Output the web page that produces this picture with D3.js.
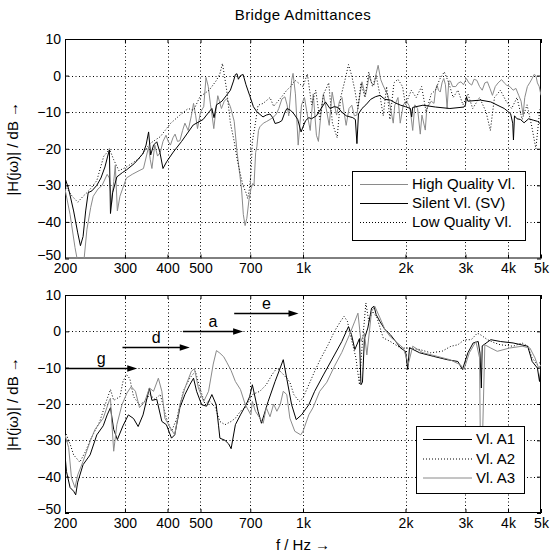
<!DOCTYPE html>
<html><head><meta charset="utf-8">
<script src="https://cdn.jsdelivr.net/npm/d3@7"></script>
<style>
html,body{margin:0;padding:0;background:#fff;}
svg text{font-family:"Liberation Sans",Arial,Helvetica,sans-serif;}
</style></head>
<body>
<svg id="chart" width="551" height="558"></svg>
<script>
// ---------- data ----------
const titleText = "Bridge Admittances";
const xLabelText = "f / Hz \u2192";
const yLabelText = "|H(j\u03c9)| / dB \u2192";
const freqTicks = [200,300,400,500,700,1000,2000,3000,4000,5000];
const freqTickLabels = ["200","300","400","500","700","1k","2k","3k","4k","5k"];
const dbTicks = [10,0,-10,-20,-30,-40,-50];

// top panel
const hqF = [200,207,214,220,226,232,238,242,250,257,266,270,274,278,281,285,290,295,303,315,330,340,352,356,360,367,374,381,388,396,402,408,415,421,428,435,443,450,460,470,477,484,490,500,511,519,527,535,540,547,554,562,568,576,587,597,612,628,640,652,660,668,676,684,694,703,712,718,726,732,740,747,765,780,800,820,835,849,867,885,898,908,926,935,950,968,990,1010,1030,1050,1072,1095,1110,1130,1148,1170,1194,1218,1237,1255,1280,1302,1320,1339,1365,1391,1415,1439,1465,1490,1510,1526,1545,1563,1590,1617,1640,1662,1690,1717,1745,1776,1800,1841,1860,1901,1930,1970,2010,2048,2070,2100,2130,2170,2210,2235,2286,2310,2340,2380,2425,2450,2475,2500,2530,2560,2590,2620,2650,2680,2710,2750,2810,2860,2910,2960,3020,3070,3130,3180,3240,3300,3360,3420,3480,3540,3600,3670,3740,3830,3900,3960,4050,4140,4220,4300,4370,4430,4480,4560,4630,4710,4770,4830,4880,4940,5000];
const hqDb = [-31,-38,-47,-53,-53,-42,-36,-33,-31,-30,-27,-28,-35,-29,-24.5,-37,-33,-31,-28,-27,-26,-25.4,-19.5,-23,-25.4,-19,-22,-21,-18,-16.3,-18,-19,-17,-16,-18,-17.8,-15,-13,-15,-11,-7.6,-11,-14.5,-10,-8.5,-0.5,-3,-8,-10.5,-14.5,-10,-5.5,-7,-9,-7,-6.3,-8.5,-12.5,-20.8,-27,-31,-38,-41,-39,-34,-31,-29.5,-30,-21,-19.5,-15,-14,-13,-12.6,-12,-11.3,-10.5,-9,-6.4,-5.8,-8,-11,-1.3,0.6,-5,-19,-8,-6,-10.8,-15,-5,-16.3,-18,-10,-5,-9,-13.6,-4.5,-8,-10.8,-7,-6,-10,-13.6,-9,-8.1,-11,-10.8,-6,-1.7,-4,-5.4,-3,0,-2,-2.6,0.5,2.8,-1,-2.6,-4,-5.4,-8,-13,-8.1,-6,-13,-8,-7,-8.1,-10,-15,-8,-9,-16,-10.8,-14.9,-9,-8.1,-7,-7.6,-4,-2.6,-4,-4.5,-2,-0.8,-2.5,-9,-1.5,-1.5,-3,-3,-2,-1.7,-2.5,-0.8,-2,-2.6,-1,-1.3,-3,-4,-2,-1.7,-3.5,-5.4,-3,-2,-1.1,-2,-2.6,-3,-4,-3.5,-5.4,-7,-10.8,-6,-3,-2,-0.8,0.3,0,-2,-3,-5.4];

const svF = [200,205,212,218,222,226,230,234,240,248,255,262,267,270,272,276,284,295,303,320,339,346,352,357,364,372,380,388,398,416,440,476,509,530,540,548,557,578,595,612,625,633,640,646,655,667,680,697,715,732,763,780,800,815,828,850,867,885,897,920,941,965,987,1000,1018,1040,1059,1095,1130,1164,1200,1235,1266,1300,1340,1400,1425,1440,1455,1490,1530,1580,1630,1683,1740,1805,1870,1936,2000,2068,2085,2100,2250,2450,2700,2970,3000,3020,3050,3320,3560,3900,4070,4130,4150,4180,4250,4350,4460,4600,4750,4880,5000];
const svDb = [-28,-31,-37,-43,-46.5,-44,-37,-32,-31.5,-30,-28,-25,-22,-20.3,-37.7,-32,-27.7,-26.5,-25.8,-24,-21.3,-19,-15.4,-21.7,-19,-18.1,-21,-25.4,-23.5,-20.9,-18,-13.5,-12,-9.9,-9,-11.5,-8,-7,-5.5,-4,-1.5,0.3,0.5,-1,0,0.3,-2.5,-5.4,-8.5,-9.9,-11.3,-10.8,-10.5,-11.5,-13.1,-12.8,-12.3,-10,-9,-9.5,-10.5,-12,-15.4,-14,-12.3,-11.5,-11.8,-11,-9,-7.2,-9,-8.5,-8.7,-10,-11,-11.5,-12,-18.6,-10.5,-9,-8,-6.5,-5.8,-5.4,-6.5,-6.7,-7.5,-8.1,-8.5,-9,-11.3,-8.7,-8.1,-8.6,-9,-8.6,-8,-5.8,-7,-6.7,-7.2,-9,-10.4,-13,-17.6,-11,-11.8,-12,-12.9,-11.8,-12.2,-12.5,-13.3];

const lqF = [200,210,218,226,235,248,260,266,270,278,288,303,330,355,381,408,435,460,477,498,530,557,570,580,590,597,612,628,640,655,666,680,688,696,703,710,722,738,764,800,820,866,896,920,948,1000,1030,1060,1090,1120,1150,1190,1220,1260,1290,1330,1360,1390,1420,1450,1480,1520,1560,1600,1640,1680,1720,1760,1800,1850,1900,1960,2000,2080,2150,2230,2300,2380,2450,2520,2600,2680,2760,2850,2950,3050,3150,3300,3450,3550,3650,3800,3950,4100,4250,4400,4550,4700,4830,4950,5000];
const lqDb = [-30,-33,-34.6,-33,-31.5,-28.7,-22,-21,-20,-23,-26,-25,-22.7,-18.6,-16.7,-13.1,-10.8,-9,-9.5,-5.8,-4,-1.3,0.5,3.3,-1,-4,-13,-18,-22.7,-27,-30,-32,-33.6,-31,-27,-18,-14,-8.1,-7.6,-6,-8.4,-5.8,-4,-3,-1.3,-3,0.5,-8,-4,-12,-5,-2,-13,-17,-6,-1,3,0,-4,-9,-2,-6,1,-3,0,-5,-11,-3,-12,-2,-1,-3,-8,-4,-6,-3,-10,-5,-4,-1,1,-2,-6,-4,-8,-5,-9,-6,-10,-15,-6,-4,-7,-9,-6,-12,-8,-14,-20,-10,-8];

// bottom panel
const a1F = [200,202,207,212,215,218,226,237,248,259,266,272,278,285,296,307,318,328,339,354,360,372,385,397,411,420,435,450,465,477,487,504,521,540,556,565,570,590,605,615,633,655,682,697,710,738,755,790,828,857,875,896,926,955,990,1040,1082,1148,1237,1300,1360,1388,1420,1465,1480,1495,1515,1550,1590,1617,1640,1683,1740,1805,1936,2000,2030,2055,2200,2420,2650,2850,2940,3050,3160,3270,3310,3340,3360,3560,3800,4140,4570,4710,4880,4950,5000];
const a1Db = [-34,-38.6,-43,-44,-45,-41.5,-36.7,-34,-28.5,-26,-23,-21,-27,-29.8,-26,-23,-24,-26.2,-23,-15.6,-19,-18.7,-24.8,-25.7,-29.4,-28.5,-21,-17.4,-14.7,-12.9,-16.5,-20.2,-20.6,-17.4,-20.2,-26,-29.4,-30,-31,-32.3,-25.7,-23,-20,-18,-14.7,-22,-25.3,-19.3,-13.8,-10.1,-7.8,-13,-20.2,-24.3,-23,-20.2,-16.5,-12,-6.5,-2.8,1.3,-0.9,-5,-2,-14.7,-14,-2,0.9,6.4,6.9,4.6,2.7,0.5,-0.9,-4.6,-5.5,-10.5,-4.5,-5.9,-6.9,-7.8,-8.3,-10.5,-5.9,-3.2,-2.8,-6,-15.6,-4,-2.3,-2.8,-3.2,-4.1,-8.3,-10.1,-13.8,-10];

const a2F = [200,207,212,221,230,237,253,265,272,278,290,296,303,310,318,331,343,355,367,381,397,411,426,445,465,483,498,516,530,553,570,590,615,633,655,677,703,710,747,780,810,838,866,896,915,940,975,1000,1040,1082,1130,1185,1237,1290,1320,1350,1370,1400,1430,1465,1490,1530,1560,1600,1650,1720,1805,1936,2040,2200,2370,2560,2720,2850,2980,3120,3250,3330,3480,3660,3800,4140,4400,4570,4710,4880,5000];
const a2Db = [-27.5,-31,-34,-36,-33,-30,-24.8,-19,-16,-19,-18,-13.8,-11.9,-13,-18,-20.2,-19.3,-17.4,-18.7,-17.4,-23.9,-27.5,-24,-16.5,-12.9,-11,-15.6,-20.2,-19,-21,-24.8,-25.7,-24.8,-23.9,-22,-21,-18.3,-17.4,-16.5,-14.7,-12,-10.1,-11.4,-12.9,-14,-17.4,-19.3,-18.3,-14.7,-11,-7.3,-3.7,0,2.8,4.1,2.8,0,-3.7,-7.3,-14.7,-4.6,7.8,2.8,5.5,3.7,-1.8,-2.8,-4.6,-4.6,-5,-5.9,-5.5,-4.1,-3.7,-2.3,-2.3,-0.5,-1,-2.3,-3.2,-3.7,-4.1,-3.2,-4.1,-7.3,-9.2,-8.3];

const a3F = [200,205,209,214,218,226,237,245,259,270,272,274,278,284,294,304,313,322,331,343,354,364,376,385,393,408,420,435,450,470,480,493,511,528,545,557,570,585,597,615,633,655,677,703,710,725,747,764,780,800,820,838,857,875,896,915,946,985,1000,1040,1070,1120,1175,1237,1300,1370,1420,1450,1480,1515,1540,1590,1625,1683,1740,1805,1970,2040,2100,2250,2480,2700,2900,2970,3080,3220,3300,3325,3345,3420,3560,3720,4040,4400,4640,4800,4920,5000];
const a3Db = [-28.5,-32,-40.4,-43,-39.5,-35.8,-30.3,-27,-23.9,-19,-18.4,-24,-33,-25.7,-20.2,-17,-15.2,-16.5,-21,-19.3,-15.6,-16.5,-12.9,-16.5,-23.9,-26.6,-28.5,-20.2,-15.6,-11,-10.3,-15.6,-19.3,-16.5,-9,-5.3,-6,-7,-8.5,-10.8,-13.8,-16,-20.2,-23,-19.3,-22,-23.9,-25.3,-21,-23.5,-20,-22,-20.2,-16.5,-17.4,-23.9,-27.5,-28.5,-27.5,-23,-21,-16.5,-14,-9.6,-5.8,-0.9,2.8,5,-2.8,-0.5,-6.5,5.5,6.9,3.7,0.5,-1.5,-4.6,-8.9,-4.1,-5.9,-6.9,-7.8,-9.2,-10.5,-5.9,-2.8,-7.3,-40,-40,-3.7,-4.6,-5.5,-4.6,-4.1,-4.6,-7.3,-10.1,-9.2];

const topLegend = ["High Quality Vl.","Silent Vl. (SV)","Low Quality Vl."];
const bottomLegend = ["Vl. A1","Vl. A2","Vl. A3"];

const arrowLabels = ["g","d","a","e"];
const arrowStartF = [200,295,444,628];
const arrowEndF = [326,465,667,970];
const arrowDb = [-10,-4.4,0,5];

// ---------- drawing ----------
const GRAY = "#8a8a8a";
const svg = d3.select("#chart");
const L = 65, R = 541;
const x = d3.scaleLog().domain([200,5000]).range([L,R]);
const panels = [
  {top:39, bottom:258.5},
  {top:295, bottom:513}
];
const tickPx = 14;
const labelPx = 15;

function makePanel(p, idx){
  const y = d3.scaleLinear().domain([-50,10]).range([p.bottom,p.top]);
  const g = svg.append("g");
  const clipId = "clip"+idx;
  svg.append("clipPath").attr("id",clipId).append("rect")
    .attr("x",L).attr("y",p.top).attr("width",R-L).attr("height",p.bottom-p.top);
  const grid = g.append("g").attr("stroke","#000").attr("stroke-width",1).attr("stroke-dasharray","1,2.5");
  freqTicks.slice(1,-1).forEach(f=>{
    const xx = Math.round(x(f))+0.5;
    grid.append("line").attr("x1",xx).attr("x2",xx).attr("y1",p.top).attr("y2",p.bottom);
  });
  dbTicks.slice(1,-1).forEach(v=>{
    const yy = Math.round(y(v))+0.5;
    grid.append("line").attr("x1",L).attr("x2",R).attr("y1",yy).attr("y2",yy);
  });
  const fmt = (d)=>freqTickLabels[freqTicks.indexOf(d)];
  const ax = g.append("g").attr("transform",`translate(0,${p.bottom})`)
    .call(d3.axisBottom(x).tickValues(freqTicks).tickFormat(fmt).tickSizeInner(-4).tickSizeOuter(0).tickPadding(5));
  const axT = g.append("g").attr("transform",`translate(0,${p.top})`)
    .call(d3.axisTop(x).tickValues(freqTicks).tickFormat("").tickSizeInner(-4).tickSizeOuter(0));
  const ay = g.append("g").attr("transform",`translate(${L},0)`)
    .call(d3.axisLeft(y).tickValues(dbTicks).tickSizeInner(-4).tickSizeOuter(0).tickPadding(4));
  const ayR = g.append("g").attr("transform",`translate(${R},0)`)
    .call(d3.axisRight(y).tickValues(dbTicks).tickFormat("").tickSizeInner(-4).tickSizeOuter(0));
  [ax,axT,ay,ayR].forEach(a=>{
    a.select(".domain").remove();
    a.selectAll("line").attr("stroke","#000");
    a.selectAll("text").attr("font-size",tickPx).attr("fill","#000").attr("font-family","Liberation Sans, Arial, sans-serif");
  });
  // lowest y label sits just above the first x label (as in the reference)
  ay.selectAll(".tick").filter(d=>d===-50).select("text").attr("dy","0.05em");
  g.append("rect").attr("x",L+0.5).attr("y",p.top+0.5).attr("width",R-L-1).attr("height",p.bottom-p.top-1)
    .attr("fill","none").attr("stroke","#000").attr("stroke-width",1);
  g.append("text").attr("transform",`translate(18,${(p.top+p.bottom)/2}) rotate(-90)`)
    .attr("text-anchor","middle").attr("font-size",labelPx).text(yLabelText);
  return {y, g, clipId};
}

function drawSeries(panel, fs, vs, color, dash){
  const pts = fs.map((f,i)=>[f,vs[i]]);
  const line = d3.line().x(d=>x(d[0])).y(d=>panel.y(d[1]));
  panel.g.append("path").datum(pts).attr("d",line)
    .attr("clip-path",`url(#${panel.clipId})`)
    .attr("fill","none").attr("stroke",color).attr("stroke-width",1)
    .attr("stroke-dasharray",dash||null).attr("stroke-linejoin","round");
}

function drawLegend(panel, box, labels, colors, dashes){
  const lg = panel.g.append("g");
  lg.append("rect").attr("x",box.x+0.5).attr("y",box.y+0.5).attr("width",box.w).attr("height",box.h)
    .attr("fill","#fff").attr("stroke","#000").attr("stroke-width",1);
  labels.forEach((t,i)=>{
    const yy = box.rows[i];
    lg.append("line").attr("x1",box.lx1).attr("x2",box.lx2).attr("y1",yy+0.5).attr("y2",yy+0.5)
      .attr("stroke",colors[i]).attr("stroke-width",1).attr("stroke-dasharray",dashes[i]||null);
    lg.append("text").attr("x",box.tx).attr("y",yy).attr("dy","0.36em").attr("font-size",labelPx).text(t);
  });
}

const topP = makePanel(panels[0],0);
drawSeries(topP, hqF, hqDb, GRAY);
drawSeries(topP, svF, svDb, "#000");
drawSeries(topP, lqF, lqDb, "#000", "1,2");
drawLegend(topP, {x:352,y:171,w:173,h:69,lx1:360,lx2:408,tx:412,rows:[184,203,222]},
  topLegend, [GRAY,"#000","#000"], [null,null,"1,2"]);

const botP = makePanel(panels[1],1);
drawSeries(botP, a1F, a1Db, "#000");
drawSeries(botP, a2F, a2Db, "#000", "1,2");
drawSeries(botP, a3F, a3Db, GRAY);
drawLegend(botP, {x:416,y:426,w:108,h:67,lx1:423,lx2:472,tx:476,rows:[439,458.5,477.5]},
  bottomLegend, ["#000","#000",GRAY], [null,"1,2",null]);

const ag = botP.g.append("g");
arrowLabels.forEach((lab,i)=>{
  const x1 = x(arrowStartF[i]), x2 = x(arrowEndF[i]);
  const yy = Math.round(botP.y(arrowDb[i]))+0.5;
  ag.append("line").attr("x1",x1).attr("x2",x2-8).attr("y1",yy).attr("y2",yy).attr("stroke","#000").attr("stroke-width",1.3);
  ag.append("path").attr("d",`M${x2},${yy} L${x2-10},${yy-3.2} L${x2-10},${yy+3.2} Z`).attr("fill","#000");
  ag.append("text").attr("x",(x1+x2)/2).attr("y",yy-5).attr("text-anchor","middle")
    .attr("font-family","Liberation Serif, Times New Roman, serif").attr("font-size",16).text(lab);
});

svg.append("text").attr("x",(L+R)/2).attr("y",20).attr("text-anchor","middle").attr("font-size",labelPx).attr("letter-spacing","0.4").text(titleText);
svg.append("text").attr("x",(L+R)/2).attr("y",550).attr("text-anchor","middle").attr("font-size",labelPx).text(xLabelText);
</script>
</body></html>
